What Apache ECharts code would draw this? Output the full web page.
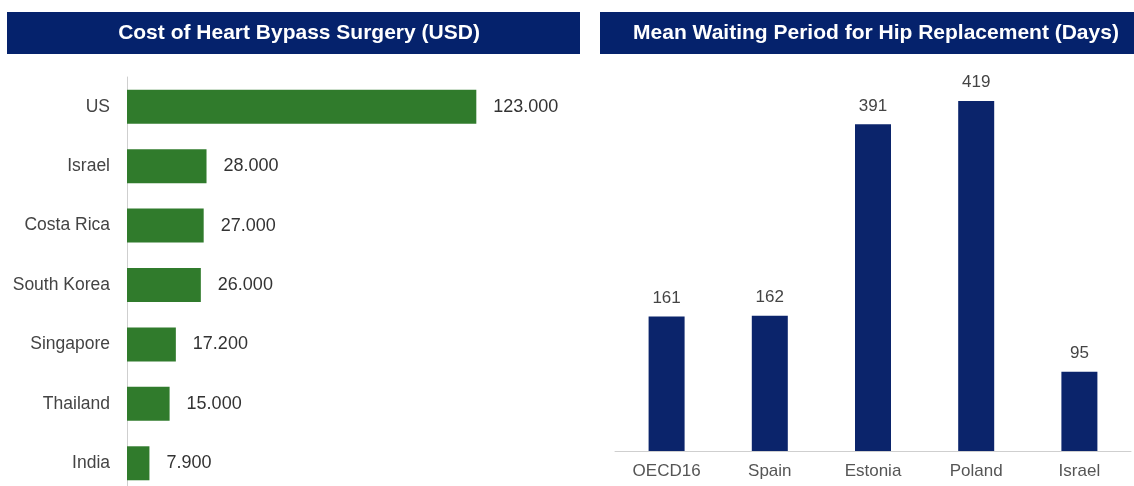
<!DOCTYPE html>
<html>
<head>
<meta charset="utf-8">
<script src="https://cdn.jsdelivr.net/npm/echarts@6/dist/echarts.min.js"></script>
<style>
  html, body { margin: 0; padding: 0; background: #fff; }
  #chart { width: 1134px; height: 486px; }
</style>
</head>
<body>
<div id="chart"></div>
<script>
// cost of heart bypass surgery (USD)
const costCountries = ['US', 'Israel', 'Costa Rica', 'South Korea', 'Singapore', 'Thailand', 'India'];
const costValues = [123000, 28000, 27000, 26000, 17200, 15000, 7900];

// mean waiting period for hip replacement (days)
const waitCountries = ['OECD16', 'Spain', 'Estonia', 'Poland', 'Israel'];
const waitValues = [161, 162, 391, 419, 95];

const titles = ['Cost of Heart Bypass Surgery (USD)', 'Mean Waiting Period for Hip Replacement (Days)'];

const FONT = '"Liberation Sans", Arial, Helvetica, sans-serif';
const NAVY = '#05226c';
const GREEN = '#307b2c';

// 123000 -> "123.000"
const fmtDots = (v) => String(v).replace(/\B(?=(\d{3})+(?!\d))/g, '.');

const chart = echarts.init(document.getElementById('chart'));

const option = {
  backgroundColor: '#ffffff',
  animation: false,
  textStyle: { fontFamily: FONT },
  graphic: [
    { type: 'rect', left: 7, top: 12, shape: { width: 573, height: 42 }, style: { fill: NAVY } },
    { type: 'rect', left: 600, top: 12, shape: { width: 534, height: 42 }, style: { fill: NAVY } },
    {
      type: 'text', x: 299, y: 33,
      style: { text: titles[0], fill: '#fff', font: 'bold 21px ' + FONT, textAlign: 'center', textVerticalAlign: 'middle' }
    },
    {
      type: 'text', x: 876, y: 33,
      style: { text: titles[1], fill: '#fff', font: 'bold 21px ' + FONT, textAlign: 'center', textVerticalAlign: 'middle' }
    }
  ],
  grid: [
    // bottom of this grid runs past the canvas, the India row is cut like in the source
    { left: 127, top: 77, width: 426, height: 416, outerBoundsMode: 'none' },
    { left: 615, top: 60, right: 3, bottom: 35, outerBoundsMode: 'none' }
  ],
  xAxis: [
    { gridIndex: 0, type: 'value', min: 0, max: 150000, show: false },
    {
      gridIndex: 1, type: 'category', data: waitCountries,
      axisLine: { lineStyle: { color: '#cfcfcf', width: 1 } },
      axisTick: { show: false },
      axisLabel: { color: '#555', fontSize: 17, margin: 12 }
    }
  ],
  yAxis: [
    {
      gridIndex: 0, type: 'category', data: costCountries, inverse: true,
      axisLine: { lineStyle: { color: '#cfcfcf', width: 1 } },
      axisTick: { show: false },
      axisLabel: { color: '#444', fontSize: 17.5, margin: 17 }
    },
    { gridIndex: 1, type: 'value', min: 0, max: 468, show: false }
  ],
  series: [
    {
      type: 'bar', xAxisIndex: 0, yAxisIndex: 0,
      data: costValues, barWidth: 34,
      itemStyle: { color: GREEN },
      label: {
        show: true, position: 'right', distance: 17,
        color: '#333', fontSize: 18,
        formatter: (p) => fmtDots(p.value)
      }
    },
    {
      type: 'bar', xAxisIndex: 1, yAxisIndex: 1,
      data: waitValues, barWidth: 36,
      itemStyle: { color: '#0b246b' },
      label: { show: true, position: 'top', distance: 10, color: '#444', fontSize: 17 }
    }
  ]
};

chart.setOption(option);
</script>
</body>
</html>
